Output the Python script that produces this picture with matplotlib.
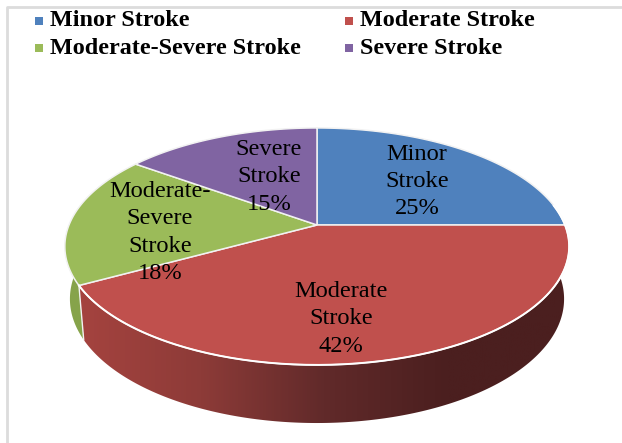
import numpy as np
import matplotlib
matplotlib.use("Agg")
import matplotlib.pyplot as plt
from matplotlib.colors import LinearSegmentedColormap
from matplotlib.patches import Polygon

plt.rcParams['font.family'] = ['Liberation Serif', 'DejaVu Serif']

names = ["Minor Stroke", "Moderate Stroke", "Moderate-Severe Stroke", "Severe Stroke"]
values = [25, 42, 18, 15]
slice_text = ["Minor\nStroke\n25%", "Moderate\nStroke\n42%", "Moderate-\nSevere\nStroke\n18%", "Severe\nStroke\n15%"]
colors = ["#4f81bd", "#c0504d", "#9bbb59", "#8064a2"]

# pie geometry in pixels, perspective tilt k
cx = 317
k = -0.181


def rim(t, a, b, y0):
    # t in degrees clockwise from top, returns screen x,y
    t = np.radians(t)
    x, y = np.sin(t), np.cos(t)
    d = 1 - k * y
    return cx + a * x / d, y0 - b * y / d


def top_pts(t):
    return rim(t, 248, 114.6, 225)


def low_pts(t):
    return rim(t, 243, 120, 276.5)


fig = plt.figure(figsize=(6.22, 4.43), dpi=100)
ax = fig.add_axes([0, 0, 1, 1])
ax.set_xlim(0, 622)
ax.set_ylim(443, 0)
ax.axis("off")

# chart frame, only top and left visible
ax.plot([622, 7, 7], [7, 7, 443], color="#dcdcdc", lw=2, zorder=1)

edges = np.cumsum([0] + values) * 3.6

# side walls
t = np.linspace(edges[1], edges[2], 200)
xu, yu = top_pts(t)
xl, yl = low_pts(t)
side = Polygon(np.r_[np.c_[xu, yu], np.c_[xl, yl][::-1]], closed=True, fc="none", ec="none", zorder=2)
ax.add_patch(side)
cmap = LinearSegmentedColormap.from_list("side", ["#a5433f", "#8d3b38", "#612a2a", "#4b1f1f", "#4b1f1f"])
im = ax.imshow(np.linspace(0, 1, 256)[None, :], cmap=cmap, extent=[78, 570, 430, 220], aspect="auto", zorder=2)
im.set_clip_path(side)
ax.set_xlim(0, 622)
ax.set_ylim(443, 0)

t = np.linspace(edges[2], 270, 60)
xu, yu = top_pts(t)
xl, yl = low_pts(t)
ax.fill(np.r_[xu, xl[::-1]], np.r_[yu, yl[::-1]], color="#86a34a", lw=0, zorder=2)

# seam between the red and green walls
xu, yu = top_pts(edges[2])
xl, yl = low_pts(edges[2])
ax.plot([xu, xl], [yu, yl], color="#f2f2f2", lw=1, zorder=2.5)

# top faces
for i in range(len(values)):
    t = np.linspace(edges[i], edges[i + 1], 200)
    x, y = top_pts(t)
    ax.fill(np.r_[cx, x], np.r_[225, y], fc=colors[i], ec="#f2f2f2", lw=1.1, zorder=3)

# white highlight on the front rim
t = np.linspace(edges[1] - 10, edges[2], 200)
x, y = top_pts(t)
ax.plot(x, y, color="white", lw=1.4, zorder=3)

# labels
lab_x = [417, 341, 160, 269]
lab_y = [181.5, 319, 232.5, 177]
for i in range(len(values)):
    ax.text(lab_x[i], lab_y[i], slice_text[i], fontsize=17.6, ha="center", va="center",
            linespacing=1.39, color="black", zorder=4)

# legend
leg_x = [36, 346, 36, 346]
leg_y = [20.5, 20.5, 48, 48]
for i in range(len(names)):
    ax.scatter(leg_x[i] + 3, leg_y[i], marker="s", s=26, color=colors[i], lw=0, zorder=4)
    ax.text(leg_x[i] + 14, leg_y[i], names[i], fontsize=17.4, fontweight="bold", va="center", ha="left", zorder=4)

fig.savefig("out.png", dpi=100)
